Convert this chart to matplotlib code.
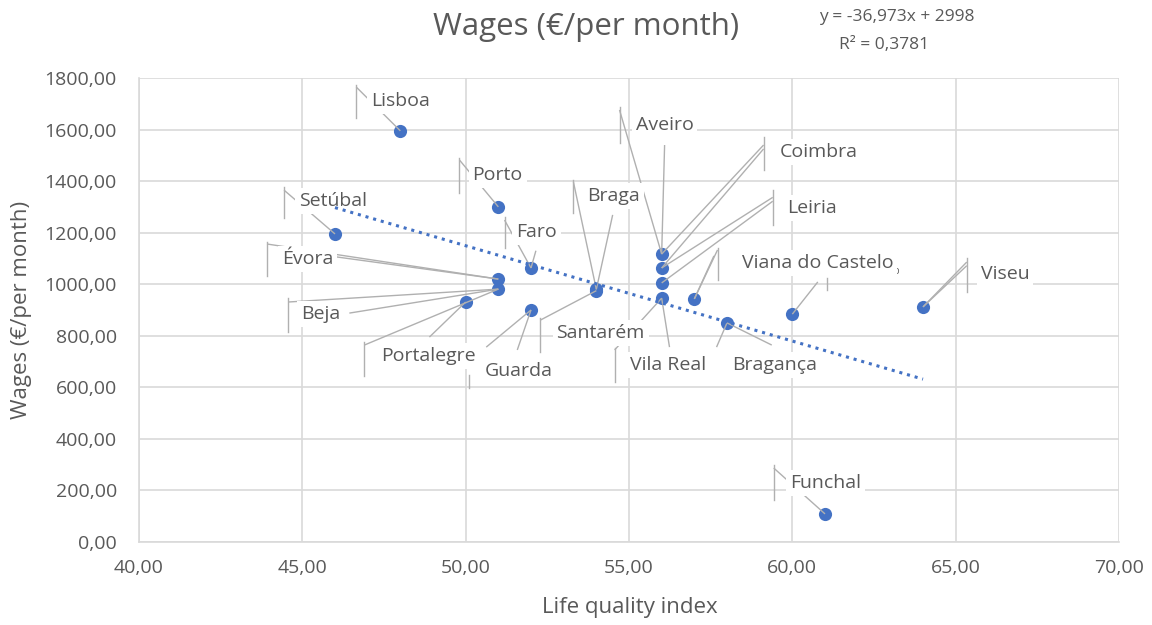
import numpy as np
import matplotlib
matplotlib.use('Agg')
import matplotlib.pyplot as plt
from matplotlib.ticker import FuncFormatter

plt.rcParams['font.family'] = ['Open Sans', 'DejaVu Sans']

# ── data ──
cities = ['Lisboa', 'Porto', 'Setúbal', 'Faro', 'Évora', 'Beja', 'Portalegre',
          'Guarda', 'Braga', 'Santarém', 'Aveiro', 'Coimbra', 'Leiria',
          'Vila Real', 'Viana do Castelo', 'Bragança', 'Castelo Branco',
          'Viseu', 'Funchal']
life_quality = [48, 51, 46, 52, 51, 51, 50, 52, 54, 54, 56, 56, 56, 56, 57, 58,
                60, 64, 61]
wages = [1595, 1300, 1195, 1063, 1020, 981, 931, 900, 980, 975, 1117, 1063,
         1005, 946, 943, 850, 884, 912, 109]

# trendline as printed on the chart
slope = -36.973
intercept = 2998
r2 = 0.3781

# ── label placement (data coords) ──
# text (left, centre y), bracket (x, y0, y1) and leader starts (x, y, target)
LABELS = {
    'Lisboa':     ((47.11, 1711), (46.65, 1645, 1773), [(46.65, 1765, 'Lisboa')]),
    'Porto':      ((50.21, 1424), (49.81, 1354, 1490), [(49.81, 1482, 'Porto')]),
    'Setúbal':    ((44.90, 1323), (44.44, 1257, 1377), [(44.44, 1365, 'Setúbal')]),
    'Faro':       ((51.55, 1203), (51.19, 1140, 1261), [(51.19, 1249, 'Faro'),
                                                        (52.15, 1130, 'Faro')]),
    'Évora':      ((44.38, 1098), (43.92, 1032, 1164), [(43.92, 1156, 'Évora'),
                                                        (46.04, 1106, 'Évora')]),
    'Beja':       ((44.96, 884), (44.57, 815, 946), [(44.57, 931, 'Beja'),
                                                     (46.44, 888, 'Beja')]),
    'Portalegre': ((47.42, 722), (46.90, 644, 776), [(46.90, 764, 'Beja'),
                                                     (48.89, 795, 'Portalegre')]),
    'Guarda':     ((50.57, 663), (50.11, 597, 648), [(50.63, 756, 'Guarda'),
                                                     (51.58, 745, 'Guarda')]),
    'Braga':      ((53.73, 1342), (53.30, 1276, 1404), [(53.30, 1396, 'Braga'),
                                                        (54.50, 1269, 'Braga')]),
    'Santarém':   ((52.78, 811), (52.29, 737, 869), [(52.29, 861, 'Santarém')]),
    'Aveiro':     ((55.20, 1618), (54.71, 1548, 1687), [(54.71, 1676, 'Aveiro'),
                                                        (56.09, 1540, 'Aveiro')]),
    'Coimbra':    ((59.61, 1513), (59.12, 1443, 1571), [(59.12, 1540, 'Aveiro'),
                                                        (59.12, 1525, 'Coimbra')]),
    'Leiria':     ((59.83, 1296), (59.40, 1230, 1365), [(59.40, 1337, 'Coimbra'),
                                                        (59.40, 1322, 'Leiria')]),
    'Vila Real':  ((55.02, 687), (54.56, 621, 752), [(54.56, 745, 'Vila Real'),
                                                     (56.24, 756, 'Vila Real')]),
    'Viana do Castelo': ((58.45, 1082), (57.71, 1016, 1140),
                         [(57.71, 1133, 'Viana do Castelo'),
                          (57.60, 1110, 'Viana do Castelo')]),
    'Bragança':   ((58.17, 687), None, [(57.68, 756, 'Bragança'),
                                        (59.37, 764, 'Bragança')]),
    'Castelo Branco': ((61.17, 1048), (61.05, 978, 1024),
                       [(60.78, 1009, 'Castelo Branco')]),
    'Viseu':      ((65.77, 1040), (65.34, 970, 1102), [(65.34, 1086, 'Viseu'),
                                                       (65.34, 1072, 'Viseu')]),
    'Funchal':    ((59.92, 229), (59.43, 163, 299), [(59.43, 287, 'Funchal')]),
}

BLUE = '#4472C4'
TEXT = '#595959'
GRID = '#d9d9d9'
LEADER = '#b0b0b0'

fig = plt.figure(figsize=(11.52, 6.25), dpi=100)
ax = fig.add_axes([139 / 1152, 1 - 542 / 625, (1119 - 139) / 1152, (542 - 78) / 625])

ax.set_xlim(40, 70)
ax.set_ylim(0, 1800)
ax.set_xticks(np.arange(40, 71, 5))
ax.set_yticks(np.arange(0, 1801, 200))
comma = FuncFormatter(lambda v, p: f'{v:.2f}'.replace('.', ','))
ax.xaxis.set_major_formatter(comma)
ax.yaxis.set_major_formatter(comma)
ax.tick_params(length=0, labelsize=14, colors=TEXT)
ax.tick_params(axis='x', pad=12)
ax.tick_params(axis='y', pad=16)
ax.grid(True, color=GRID, lw=1.2)
ax.set_axisbelow(True)
for s in ['top', 'right']:
    ax.spines[s].set_visible(False)
for s in ['left', 'bottom']:
    ax.spines[s].set_color(GRID)
    ax.spines[s].set_linewidth(1.2)

# points
ax.scatter(life_quality, wages, s=90, color=BLUE, zorder=3, linewidths=0)

# trendline over the data range (drawn above the label boxes, as in Excel)
xs = np.array([min(life_quality), max(life_quality)])
ax.plot(xs, slope * xs + intercept, color=BLUE, lw=2.2, ls=(0, (1, 1.6)), zorder=6)

# data labels with leader lines
pos = dict(zip(cities, zip(life_quality, wages)))
for name, (txt, bracket, leaders) in LABELS.items():
    for sx, sy, target in leaders:
        tx, ty = pos[target]
        ax.plot([sx, tx], [sy, ty], color=LEADER, lw=1.0, zorder=4,
                solid_capstyle='butt')
    if bracket is not None:
        bx, y0, y1 = bracket
        ax.plot([bx, bx], [y0, y1], color=LEADER, lw=1.0, zorder=4)
    hidden = name == 'Castelo Branco'
    ax.text(txt[0], txt[1], name, ha='left', va='center',
            fontsize=7 if hidden else 14, color=TEXT,
            zorder=4.5 if hidden else 5,
            bbox=dict(boxstyle='square,pad=0.2', fc='white', ec='none'))

# titles
fig.text(586 / 1152, 1 - 27 / 625, 'Wages (€/per month)', ha='center',
         va='center', fontsize=22.5, color=TEXT)
fig.text(897 / 1152, 1 - 17 / 625, 'y = -36,973x + 2998', ha='center',
         va='center', fontsize=12.5, color=TEXT)
fig.text(884 / 1152, 1 - 45 / 625, f'R² = {r2:.4f}'.replace('.', ','),
         ha='center', va='center', fontsize=12.5, color=TEXT)
fig.text(22 / 1152, 1 - 310 / 625, 'Wages (€/per month)', rotation=90,
         ha='center', va='center', fontsize=16, color=TEXT)
fig.text(630 / 1152, 1 - 608 / 625, 'Life quality index', ha='center',
         va='center', fontsize=16, color=TEXT)

fig.savefig('out.png', dpi=100, facecolor='white')
